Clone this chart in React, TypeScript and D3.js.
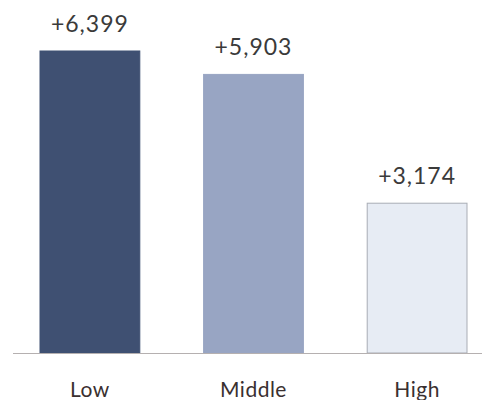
import React from "react";
import * as d3 from "d3";

const categories = ["Low", "Middle", "High"];
const values = [6399, 5903, 3174];
const valueLabels = ["+6,399", "+5,903", "+3,174"];
const colors = ["#3f5072", "#98a5c3", "#e7ecf4"];
const strokes = ["#3f5072", "#98a5c3", "#a9adb5"];

export default function App() {
  const W = 482, H = 400;
  const baseY = 353;
  const x = d3.scaleBand<string>().domain(categories).range([40, 467]).paddingInner(0.39).paddingOuter(0);
  const y = d3.scaleLinear().domain([0, 6399]).range([baseY, 51]);
  const font = "Lato, 'DejaVu Sans', sans-serif";
  return (
    <svg width={W} height={H} style={{ position: "absolute", left: 0, top: 0, background: "#fff" }}>
      {categories.map((c, i) => (
        <rect key={c} x={x(c)!} y={y(values[i])} width={x.bandwidth()} height={baseY - y(values[i])}
          fill={colors[i]} stroke={strokes[i]} strokeWidth={1} />
      ))}
      <line x1={13} x2={482} y1={baseY + 0.5} y2={baseY + 0.5} stroke="#b5b0b0" strokeWidth={1} />
      {categories.map((c, i) => (
        <text key={"v" + c} x={x(c)! + x.bandwidth() / 2} y={y(values[i]) - 19} textAnchor="middle"
          fontFamily={font} fontSize={23} fill="#3a3a3a" letterSpacing={1}>{valueLabels[i]}</text>
      ))}
      {categories.map((c) => (
        <text key={"c" + c} x={x(c)! + x.bandwidth() / 2} y={397} textAnchor="middle"
          fontFamily={font} fontSize={21} fill="#3a3030" letterSpacing={0.5}>{c}</text>
      ))}
    </svg>
  );
}
